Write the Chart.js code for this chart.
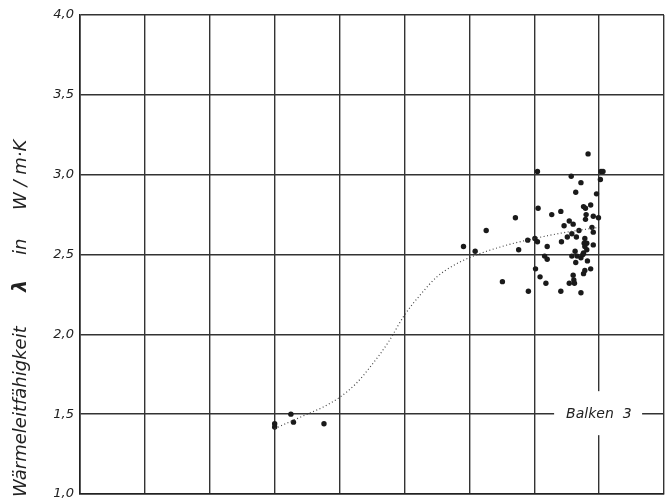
<!DOCTYPE html>
<html lang="de">
<head>
<meta charset="UTF-8">
<title>Wärmeleitfähigkeit – Balken 3</title>
<style>
  html, body { margin: 0; padding: 0; background: #fff; }
  #wrap { width: 668px; height: 500px; }
</style>
</head>
<body>
<div id="wrap"><canvas id="chart"></canvas></div>
<script src="https://cdn.jsdelivr.net/npm/chart.js"></script>
<script>
// measured points (x in grid units, y = lambda in W/m.K)
const pointX = [3.00, 3.00, 3.25, 3.29, 3.76,
  5.91, 6.09, 6.26, 6.51, 6.71, 6.76, 6.90, 6.91, 7.01, 7.02, 7.05, 7.05, 7.06, 7.09,
  7.16, 7.18, 7.20, 7.20, 7.27, 7.41, 7.41, 7.42, 7.46, 7.51, 7.54, 7.54, 7.57, 7.58,
  7.58, 7.60, 7.60, 7.61, 7.62, 7.63, 7.64, 7.64, 7.65, 7.66, 7.69, 7.72, 7.72, 7.72,
  7.75, 7.76, 7.76, 7.76, 7.77, 7.78, 7.78, 7.78, 7.79, 7.79, 7.80, 7.81, 7.81, 7.82,
  7.83, 7.87, 7.87, 7.89, 7.91, 7.91, 7.91, 7.96, 7.99, 8.02, 8.03, 8.06];
const pointY = [1.44, 1.42, 1.50, 1.45, 1.44,
  2.55, 2.52, 2.65, 2.33, 2.73, 2.53, 2.59, 2.27, 2.60, 2.41, 3.02, 2.58, 2.79, 2.36,
  2.49, 2.32, 2.55, 2.47, 2.75, 2.77, 2.27, 2.58, 2.68, 2.61, 2.71, 2.32, 2.99, 2.63,
  2.49, 2.69, 2.37, 2.34, 2.32, 2.52, 2.89, 2.45, 2.61, 2.49, 2.65, 2.48, 2.95, 2.26,
  2.50, 2.80, 2.51, 2.38, 2.57, 2.60, 2.55, 2.40, 2.79, 2.72, 2.75, 2.57, 2.53, 2.46,
  3.13, 2.81, 2.41, 2.67, 2.74, 2.64, 2.56, 2.88, 2.73, 2.97, 3.02, 3.02];

// fitted curve (dotted)
const curveX = [3.0, 3.25, 3.5, 3.75, 4.0, 4.25, 4.5, 4.75, 5.0, 5.25, 5.5, 5.75, 6.0, 6.5, 7.0, 7.5, 8.0];
const curveY = [1.41, 1.455, 1.50, 1.545, 1.605, 1.69, 1.81, 1.95, 2.12, 2.25, 2.36, 2.43, 2.48, 2.55, 2.60, 2.64, 2.67];

const yTicks = [1.0, 1.5, 2.0, 2.5, 3.0, 3.5, 4.0];
const titleParts = ['Wärmeleitfähigkeit', 'λ', 'in', 'W / m·K'];
const seriesLabel = 'Balken  3';

const labelsPlugin = {
  id: 'labels',
  afterDraw(chart) {
    const ctx = chart.ctx;
    const x = chart.scales.x, y = chart.scales.y;
    ctx.save();
    // series label with white box over the grid
    const cx = x.getPixelForValue(8.0), cy = y.getPixelForValue(1.5);
    ctx.fillStyle = '#fff';
    ctx.fillRect(cx - 45, cy - 23, 88, 44);
    ctx.fillStyle = '#222';
    ctx.font = 'italic 14px "DejaVu Sans"';
    ctx.textAlign = 'left';
    ctx.textBaseline = 'middle';
    ctx.fillText(seriesLabel, cx - 33, cy);

    // rotated axis title
    ctx.translate(21, 0);
    ctx.rotate(-Math.PI / 2);
    ctx.textBaseline = 'middle';
    const starts = [497, 292, 255, 210];
    titleParts.forEach((t, i) => {
      ctx.font = i === 1 ? 'italic bold 19px "DejaVu Sans"' : 'italic 18px "DejaVu Sans"';
      ctx.fillText(t, -starts[i], 0);
    });
    ctx.restore();
  }
};

new Chart(document.getElementById('chart'), {
  type: 'scatter',
  data: {
    datasets: [
      {
        data: curveX.map((v, i) => ({ x: v, y: curveY[i] })),
        showLine: true,
        borderColor: '#444',
        borderWidth: 1.2,
        borderDash: [1, 2.5],
        tension: 0.4,
        cubicInterpolationMode: 'monotone',
        pointRadius: 0
      },
      {
        data: pointX.map((v, i) => ({ x: v, y: pointY[i] })),
        backgroundColor: '#1a1a1a',
        borderWidth: 0,
        pointRadius: 2.7
      }
    ]
  },
  options: {
    responsive: true,
    maintainAspectRatio: false,
    animation: false,
    devicePixelRatio: 1,
    layout: { padding: { top: 15, right: 4, bottom: 6, left: 0 } },
    plugins: { legend: { display: false }, tooltip: { enabled: false } },
    scales: {
      x: {
        type: 'linear', min: 0, max: 9,
        ticks: { stepSize: 1, display: false },
        grid: { color: '#333', lineWidth: 1.4, drawTicks: false },
        border: { color: '#222', width: 1.6 },
        afterFit(s) { s.height = 0; s.paddingLeft = 0; s.paddingRight = 0; }
      },
      y: {
        type: 'linear', min: 1, max: 4,
        afterBuildTicks(s) { s.ticks = yTicks.map(v => ({ value: v })); },
        ticks: {
          padding: 6,
          color: '#222',
          font: { family: 'DejaVu Sans', size: 13, style: 'italic' },
          callback: v => v.toFixed(1).replace('.', ',')
        },
        grid: { color: '#333', lineWidth: 1.4, drawTicks: false },
        border: { color: '#222', width: 1.6 },
        afterFit(s) { s.width = 80; s.paddingTop = 0; s.paddingBottom = 0; }
      }
    }
  },
  plugins: [labelsPlugin]
});
</script>
</body>
</html>
